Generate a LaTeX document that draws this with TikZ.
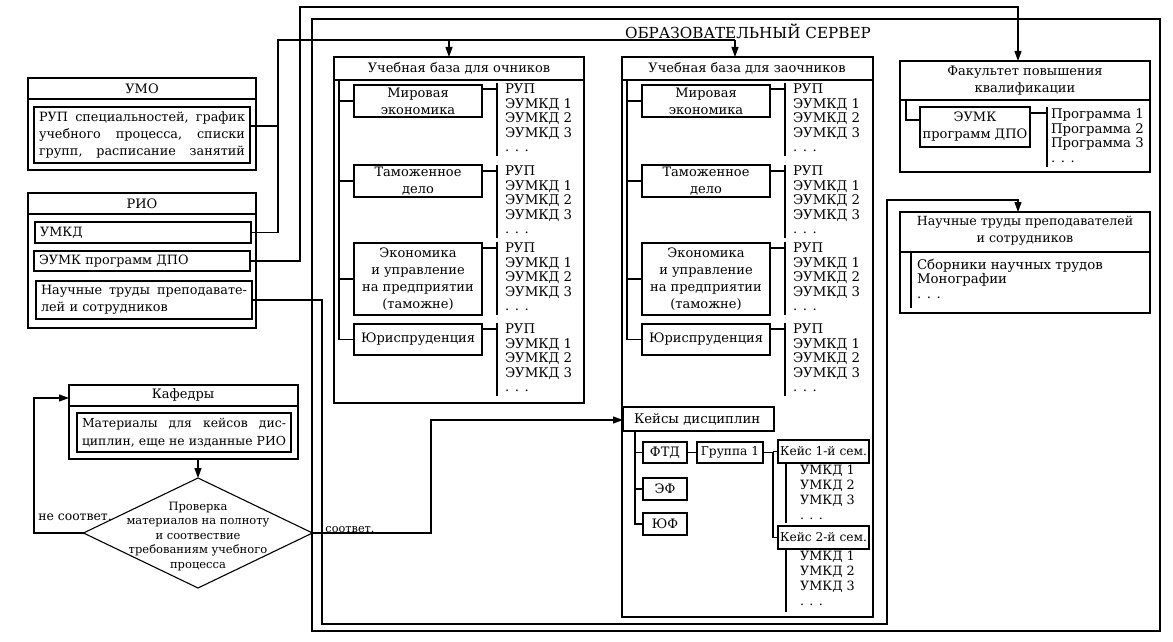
\documentclass[tikz,border=0pt]{standalone}
\usepackage{fontspec}
\setmainfont{DejaVu Serif}
\usetikzlibrary{arrows.meta,shapes.geometric,calc}
\newcommand\myjline[2]{\leavevmode\hbox to #1pt{#2}}
\begin{document}
\begin{tikzpicture}[x=1pt,y=-1pt,
  every node/.style={inner sep=0pt, outer sep=0pt},
  ln/.style={line width=1.1pt},
  arr/.style={line width=1.1pt,-{Triangle[length=10pt,width=7pt]}},
  box/.style={draw, line width=1.1pt, anchor=north west},
  ft/.style={font=\fontsize{12.8}{17}\selectfont},
  sm/.style={font=\fontsize{12.2}{17}\selectfont},
  lst/.style={font=\fontsize{13.3}{14.5}\selectfont, align=left, anchor=north west},
  ttl/.style={font=\fontsize{13}{17}\selectfont, align=center}
]
\useasboundingbox (0,0) rectangle (1173,642);

% ---------------- UMO
\node[box, minimum width=228, minimum height=92] (umo) at (28,78) {};
\node[ttl] (umot) at (142,89) {УМО};
\draw[ln] (umo.north west) ++(0,21) -- ++(228,0);
\node[box, ft, minimum width=216, minimum height=56, text width=206, align=left] (umoin) at (34,107)
 {\myjline{206}{РУП\hfill специальностей,\hfill график}\\\myjline{206}{учебного\hfill процесса,\hfill списки}\\\myjline{206}{групп,\hfill расписание\hfill занятий}};

% ---------------- RIO
\node[box, minimum width=228, minimum height=135] (rio) at (28,193) {};
\node[ttl] (riot) at (142,204) {РИО};
\draw[ln] (rio.north west) ++(0,21) -- ++(228,0);
\node[box, ft, minimum width=216, minimum height=21, text width=206, align=left] (umkd) at (35,222) {УМКД};
\node[box, ft, minimum width=216, minimum height=20, text width=206, align=left] (eumk) at (34,251) {ЭУМК программ ДПО};
\node[box, ft, minimum width=216, minimum height=38, text width=206, align=left] (nauch) at (36,281)
 {\myjline{206}{Научные\hfill труды\hfill преподавате-}\\лей и сотрудников};

% ---------------- Kafedry
\node[box, minimum width=229, minimum height=74] (kaf) at (69,385) {};
\node[ttl] (kaft) at (183,395) {Кафедры};
\draw[ln] (kaf.north west) ++(0,21) -- ++(229,0);
\node[box, font=\fontsize{12.4}{18}\selectfont, minimum width=214, minimum height=39, text width=204, align=left] (kafin) at (77,413)
 {\myjline{204}{Материалы\hfill для\hfill кейсов\hfill дис-}\\\myjline{204}{циплин,\hfill еще\hfill не\hfill изданные\hfill РИО}};

% ---------------- Diamond
\node[draw, ln, diamond, minimum width=229, minimum height=110] (dia) at (198,533) {};
\node[font=\fontsize{11.5}{14.5}\selectfont, align=center] (diat) at (198,536) {Проверка\\материалов на полноту\\и соотвествие\\требованиям учебного\\процесса};
\node[font=\fontsize{12.4}{15}\selectfont] (ne) at (75,517) {не соответ.};
\node[font=\fontsize{11.3}{15}\selectfont] (so) at (350,530) {соответ.};

% ---------------- Server
\node[box, minimum width=848, minimum height=612] (srv) at (312,19) {};
\node[font=\fontsize{15.2}{17}\selectfont] (srvt) at (748,31) {ОБРАЗОВАТЕЛЬНЫЙ СЕРВЕР};

\node[box, minimum width=250, minimum height=346] (och) at (334,57) {};
\node[ttl] (ocht) at (459,68) {Учебная база для очников};
\draw[ln] (och.north west) ++(0,23) -- ++(250,0);
\node[box, minimum width=251, minimum height=560] (zao) at (622,57) {};
\node[ttl] (zaot) at (747,68) {Учебная база для заочников};
\draw[ln] (zao.north west) ++(0,23) -- ++(251,0);

\foreach \p/\dx in {a/0,b/288}{
  \node[box, ttl, minimum width=128, minimum height=32] (\p mir) at (354+\dx,85) {Мировая\\экономика};
  \node[box, ttl, minimum width=128, minimum height=32] (\p tam) at (354+\dx,165) {Таможенное\\дело};
  \node[box, ttl, minimum width=128, minimum height=72] (\p eko) at (354+\dx,243) {Экономика\\и управление\\на предприятии\\(таможне)};
  \node[box, ttl, minimum width=128, minimum height=31] (\p yur) at (354+\dx,324) {Юриспруденция};
  \coordinate (\p tr) at (339+\dx,80);
  \draw[ln] (\p tr) -- (\p tr |- \p yur.west) -- (\p yur.west);
  \draw[ln] (\p tr |- \p mir.west) -- (\p mir.west);
  \draw[ln] (\p tr |- \p tam.west) -- (\p tam.west);
  \draw[ln] (\p tr |- \p eko.west) -- (\p eko.west);
  \foreach \b/\t in {mir/83,tam/165,eko/242,yur/323}{
    \coordinate (\p\b b) at (497+\dx,\t);
    \coordinate (\p\b c) at (497+\dx,\t+6);
    \node[lst] (\p\b l) at (505+\dx,\t+1) {РУП\\ЭУМКД 1\\ЭУМКД 2\\ЭУМКД 3\\. . .};
    \draw[ln] (\p\b b) -- ++(0,73);
    \draw[ln] (\p\b c -| \p\b.east) -- (\p\b c);
  }
}

% ---------------- Cases
\node[box, minimum width=151, minimum height=24] (kej) at (623,407) {};
\node[font=\fontsize{13.3}{15}\selectfont, anchor=west] (kejt) at (634,419) {Кейсы дисциплин};
\node[box, ttl, minimum width=44, minimum height=21] (ftd) at (643,442) {ФТД};
\node[box, ttl, minimum width=44, minimum height=22] (ef) at (643,478) {ЭФ};
\node[box, ttl, minimum width=44, minimum height=22] (yf) at (643,513) {ЮФ};
\coordinate (kt) at (635,431);
\draw[ln] (kt) -- (kt |- yf.west) -- (yf.west);
\draw[ln] (kt |- ftd.west) -- (ftd.west);
\draw[ln] (kt |- ef.west) -- (ef.west);
\node[box, sm, minimum width=66, minimum height=21] (gr1) at (697,442) {Группа 1};
\draw[ln] (ftd.east) -- (gr1.west);
\node[box, sm, minimum width=91, minimum height=23] (k1) at (778,440) {Кейс 1-й сем.};
\node[box, sm, minimum width=91, minimum height=23] (k2) at (778,526) {Кейс 2-й сем.};
\coordinate (gt) at (773,452);
\draw[ln] (gr1.east) -| (gt |- k2.west) -- (k2.west);
\draw[ln] (gt |- k1.west) -- (k1.west);
\coordinate (k1b) at (786,463);
\coordinate (k2b) at (786,549);
\draw[ln] (k1b) -- ++(0,60);
\draw[ln] (k2b) -- ++(0,63);
\node[lst, font=\fontsize{12.8}{15}\selectfont] (k1l) at (800,465) {УМКД 1\\УМКД 2\\УМКД 3\\. . .};
\node[lst, font=\fontsize{12.8}{15}\selectfont] (k2l) at (800,551) {УМКД 1\\УМКД 2\\УМКД 3\\. . .};

% ---------------- Faculty
\node[box, minimum width=250, minimum height=111] (fak) at (900,61) {};
\node[ttl] (fakt) at (1025,81) {Факультет повышения\\квалификации};
\draw[ln] (fak.north west) ++(0,39) -- ++(250,0);
\node[box, ttl, minimum width=110, minimum height=40] (fake) at (920,107) {ЭУМК\\программ ДПО};
\coordinate (ft1) at (906,100);
\coordinate (ft2) at (906,120);
\draw[ln] (ft1) -- (ft2) -- (ft2 -| fake.west);
\coordinate (fb) at (1047,107);
\coordinate (fc) at (1047,113);
\draw[ln] (fb) -- ++(0,60);
\draw[ln] (fc -| fake.east) -- (fc);
\node[lst] (fakl) at (1051,109) {Программа 1\\Программа 2\\Программа 3\\. . .};

% ---------------- Science works
\node[box, minimum width=250, minimum height=101] (nt) at (900,212) {};
\node[ttl, font=\fontsize{12.6}{17}\selectfont] (ntt) at (1025,231) {Научные труды преподавателей\\и сотрудников};
\draw[ln] (nt.north west) ++(0,40) -- ++(250,0);
\coordinate (nt1) at (911,252);
\draw[ln] (nt1) -- ++(0,56);
\node[lst] (ntl) at (917,259) {Сборники научных трудов\\Монографии\\. . .};

% ---------------- Connectors
\coordinate (v1) at (300,7);
\coordinate (v2) at (1018,7);
\draw[arr] (eumk.east) -| (v1) -- (v2) -- (v2 |- fak.north);
\coordinate (w1) at (278,40);
\coordinate (w2) at (735,40);
\coordinate (w3) at (449,40);
\draw[ln] (umkd.east) -| (w1) -- (w2);
\draw[arr] (w2) -- (w2 |- zao.north);
\draw[arr] (w3) -- (w3 |- och.north);
\coordinate (u1) at ($(umoin.east)+(0,-9)$);
\draw[ln] (u1) -- (u1 -| w1);
\coordinate (n1) at (322,624);
\coordinate (n2) at (887,624);
\coordinate (n3) at (887,200);
\coordinate (n4) at (1018,200);
\draw[arr] (nauch.east) -| (n1) -- (n2) -- (n3) -- (n4) -- (n4 |- nt.north);
\draw[arr] (kaf.south -| dia.north) -- (dia.north);
\coordinate (lp) at (34,398);
\draw[arr] (dia.west) -| (lp) -- (lp -| kaf.west);
\coordinate (rp) at (431,420);
\draw[arr] (dia.east) -| (rp) -- (rp -| kej.west);
\end{tikzpicture}
\end{document}
